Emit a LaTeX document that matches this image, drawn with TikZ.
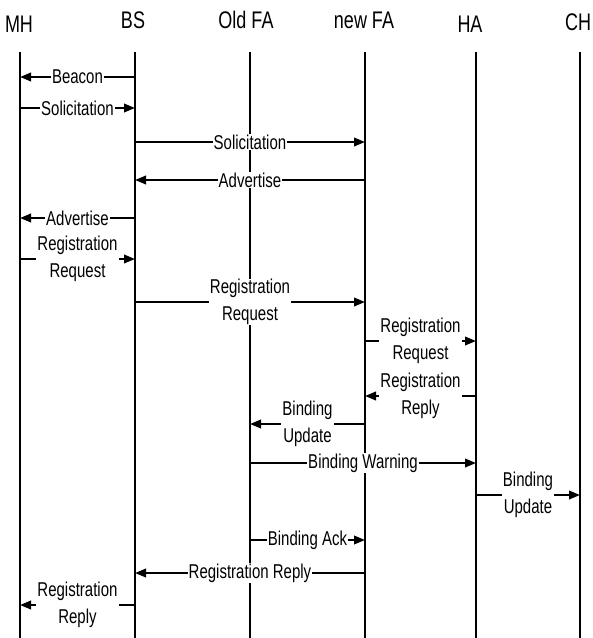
\documentclass[tikz,border=0pt]{standalone}
\usepackage{fontspec}
\setmainfont{Liberation Sans}[FakeStretch=0.75]
\usetikzlibrary{arrows.meta}
\tikzset{
  lifeline/.style={line width=1.6pt, black},
  msgarrow/.style={line width=2.2pt, -{Triangle[length=11pt,width=8.5pt]}},
  lbl/.style={fill=white, inner xsep=1pt, inner ysep=0.5pt, align=center,
    font=\fontsize{20}{26.5}\selectfont},
  hdr/.style={anchor=base, inner sep=0pt, font=\fontsize{24}{26}\selectfont}
}
\newcommand{\seqmsg}[4]{\draw[msgarrow] (#1 |- 0,#3) -- (#2 |- 0,#3) node[midway, lbl] {#4};}
\begin{document}
\begin{tikzpicture}[x=1pt, y=-1pt]
\useasboundingbox (0,0) rectangle (593,638);
% headers
\node[hdr] (hMH) at (19,32) {MH};
\node[hdr] (hBS) at (133,28) {BS};
\node[hdr] (hOFA) at (246,28) {Old FA};
\node[hdr] (hNFA) at (364,28) {new FA};
\node[hdr] (hHA) at (470,32) {HA};
\node[hdr] (hCH) at (578,30) {CH};
% lifelines
\coordinate (MH) at (20,52);  \coordinate (MHb) at (20,638);
\coordinate (BS) at (135,52); \coordinate (BSb) at (135,638);
\coordinate (OFA) at (250,52); \coordinate (OFAb) at (250,638);
\coordinate (NFA) at (365,52); \coordinate (NFAb) at (365,638);
\coordinate (HA) at (476,52); \coordinate (HAb) at (476,638);
\coordinate (CH) at (580,52); \coordinate (CHb) at (580,638);
\foreach \l in {MH,BS,OFA,NFA,HA,CH} {\draw[lifeline] (\l) -- (\l b);}
% messages
\seqmsg{BS}{MH}{77}{Beacon}
\seqmsg{MH}{BS}{108}{Solicitation}
\seqmsg{BS}{NFA}{142}{Solicitation}
\seqmsg{NFA}{BS}{180}{Advertise}
\seqmsg{BS}{MH}{218}{Advertise}
\seqmsg{MH}{BS}{259}{Registration\\Request}
\seqmsg{BS}{NFA}{302}{Registration\\Request}
\seqmsg{NFA}{HA}{341}{Registration\\Request}
\seqmsg{HA}{NFA}{396}{Registration\\Reply}
\seqmsg{NFA}{OFA}{424}{Binding\\Update}
\seqmsg{OFA}{HA}{463}{Binding Warning}
\seqmsg{HA}{CH}{495}{Binding\\Update}
\seqmsg{OFA}{NFA}{540}{Binding Ack}
\seqmsg{NFA}{BS}{573}{Registration Reply}
\seqmsg{BS}{MH}{605}{Registration\\Reply}
\end{tikzpicture}
\end{document}
